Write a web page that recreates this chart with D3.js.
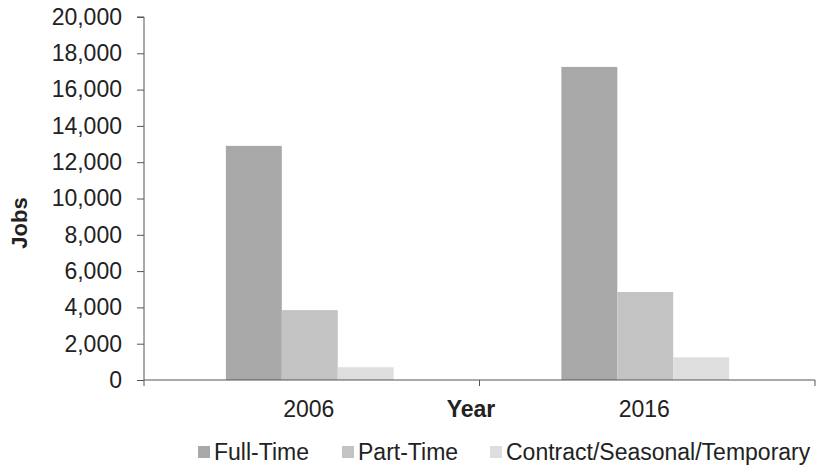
<!doctype html>
<html>
<head>
<meta charset="utf-8">
<script src="https://d3js.org/d3.v7.min.js"></script>
<style>
  body { margin: 0; background: #fff; }
  text { font-family: "Liberation Sans", Arial, sans-serif; fill: #222; }
</style>
</head>
<body>
<script>
// ---------- data ----------
var years     = ["2006", "2016"];
var series    = ["Full-Time", "Part-Time", "Contract/Seasonal/Temporary"];
var fullTime  = [12900, 17250];
var partTime  = [3850, 4850];
var contract  = [700, 1250];
var yTicks    = [0, 2000, 4000, 6000, 8000, 10000, 12000, 14000, 16000, 18000, 20000];
var colors    = ["#a8a8a8", "#c3c3c3", "#dedede"];

var values = [fullTime, partTime, contract];

// ---------- layout ----------
var width = 817, height = 467;
var plotLeft = 144, plotRight = 815, plotTop = 17, plotBottom = 380;

var svg = d3.select("body").append("svg")
  .attr("width", width)
  .attr("height", height);

var y = d3.scaleLinear().domain([0, 20000]).range([plotBottom, plotTop]);
var x0 = d3.scaleBand().domain(years).range([plotLeft, plotRight]).padding(0);
var groupW = x0.bandwidth() * 0.5;
var x1 = d3.scaleBand().domain(series).range([0, groupW]).padding(0);

// bars
years.forEach(function(yr, i) {
  var g = svg.append("g")
    .attr("transform", "translate(" + (x0(yr) + x0.bandwidth() / 2 - groupW / 2 - 2) + ",0)");
  g.selectAll("rect")
    .data(series)
    .enter().append("rect")
      .attr("x", d => x1(d))
      .attr("width", x1.bandwidth())
      .attr("y", (d, j) => y(values[j][i]))
      .attr("height", (d, j) => plotBottom - y(values[j][i]))
      .attr("fill", (d, j) => colors[j]);
});

// y axis
var yAxis = svg.append("g")
  .attr("transform", "translate(" + plotLeft + ",0)")
  .call(d3.axisLeft(y).tickValues(yTicks).tickSize(7).tickPadding(15)
        .tickFormat(d3.format(",")));
yAxis.selectAll("text").style("font-size", "23px").attr("fill", "#222");
yAxis.selectAll("line, path").attr("stroke", "#555");
yAxis.select(".domain").attr("d", "M-7," + plotTop + "H0V" + plotBottom);

// x axis (ticks at category boundaries)
var bounds = years.map(d => x0(d)).concat([plotRight]);
var xAxis = svg.append("g")
  .attr("transform", "translate(0," + plotBottom + ")");
xAxis.append("line")
  .attr("x1", plotLeft).attr("x2", plotRight)
  .attr("stroke", "#555");
xAxis.selectAll(".tk")
  .data(bounds)
  .enter().append("line")
    .attr("class", "tk")
    .attr("x1", d => d).attr("x2", d => d)
    .attr("y1", 0).attr("y2", 6)
    .attr("stroke", "#555");
xAxis.selectAll(".lbl")
  .data(years)
  .enter().append("text")
    .attr("class", "lbl")
    .attr("x", d => x0(d) + x0.bandwidth() / 2 - 3)
    .attr("y", 37)
    .attr("text-anchor", "middle")
    .style("font-size", "23px")
    .text(d => d);

// axis titles
svg.append("text")
  .attr("x", 471).attr("y", 417)
  .attr("text-anchor", "middle")
  .style("font-size", "23px").style("font-weight", "bold")
  .text("Year");

svg.append("text")
  .attr("transform", "translate(27,223) rotate(-90)")
  .attr("text-anchor", "middle")
  .style("font-size", "22px").style("font-weight", "bold")
  .text("Jobs");

// legend
var legendX = [198, 342, 490];
var legend = svg.selectAll(".leg")
  .data(series)
  .enter().append("g")
    .attr("class", "leg")
    .attr("transform", (d, i) => "translate(" + legendX[i] + ",452)");
legend.append("rect")
  .attr("x", 0).attr("y", -6)
  .attr("width", 12).attr("height", 12)
  .attr("fill", (d, i) => colors[i]);
legend.append("text")
  .attr("x", 16).attr("y", 8)
  .style("font-size", "23px")
  .text(d => d);
</script>
</body>
</html>
